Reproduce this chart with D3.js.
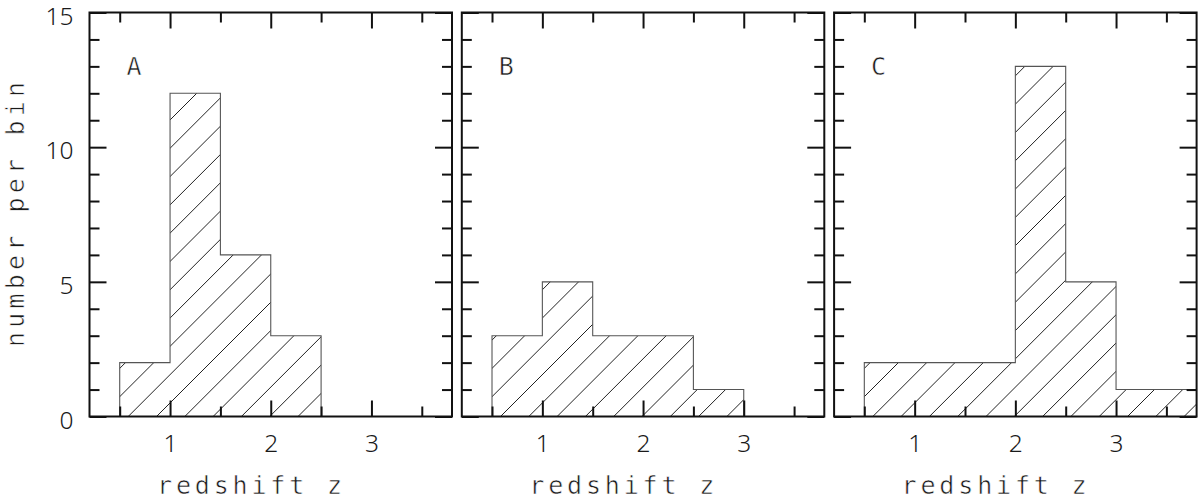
<!DOCTYPE html>
<html>
<head>
<meta charset="utf-8">
<script src="https://cdn.jsdelivr.net/npm/d3@7"></script>
<style>
  html, body { margin: 0; padding: 0; background: #fff; }
  svg { display: block; }
  text.lbl { font-family: "DejaVu Sans Mono", monospace; fill: #1a1a1a; stroke: #fff; stroke-width: 0.55px; }
</style>
</head>
<body>
<svg id="chart" width="1200" height="500"></svg>
<script>
// ---- data ----
const binStarts = [0.5, 1.0, 1.5, 2.0, 2.5, 3.0, 3.5];
const binWidth = 0.5;
const countsA = [2, 12, 6, 3, 0, 0, 0];
const countsB = [3, 5, 3, 3, 1, 0, 0];
const countsC = [2, 2, 2, 13, 5, 1, 1];
const panelNames = ["A", "B", "C"];
const xMajorTicks = [1, 2, 3];
const xMinorTicks = [0.5, 1.5, 2.5, 3.5];
const yMajorTicks = [0, 5, 10, 15];
const yMinorTicks = [1, 2, 3, 4, 6, 7, 8, 9, 11, 12, 13, 14];
const xLabel = "redshift z";
const yLabel = "number per bin";

// ---- layout ----
const svg = d3.select("#chart");
const panelW = 362.5, panelStep = 372.3, firstLeft = 89.5;
const plotTop = 12.5, plotBottom = 416.5;
const y = d3.scaleLinear().domain([0, 15]).range([plotBottom, plotTop]);
const series = [countsA, countsB, countsC];

const defs = svg.append("defs");

series.forEach((counts, i) => {
  const left = firstLeft + i * panelStep;
  const right = left + panelW;
  const x = d3.scaleLinear().domain([0.2, 3.8]).range([left, right]);
  const g = svg.append("g");

  // histogram points (trim trailing zeros)
  let last = counts.length - 1;
  while (last > 0 && counts[last] === 0) last--;
  let first = 0;
  while (first < last && counts[first] === 0) first++;
  const pts = [];
  for (let k = first; k <= last; k++) pts.push([binStarts[k], counts[k]]);
  pts.push([binStarts[last] + binWidth, counts[last]]);

  // clip paths
  defs.append("clipPath").attr("id", "panel" + i)
    .append("rect").attr("x", left).attr("y", plotTop)
    .attr("width", panelW).attr("height", plotBottom - plotTop);
  const area = d3.area().curve(d3.curveStepAfter)
    .x(d => x(d[0])).y0(y(0)).y1(d => y(d[1]));
  defs.append("clipPath").attr("id", "hist" + i)
    .append("path").attr("d", area(pts));

  const clipped = g.append("g").attr("clip-path", `url(#panel${i})`);
  const hatchG = clipped.append("g").attr("clip-path", `url(#hist${i})`);

  // hatching: 45 degree lines
  const H = plotBottom - plotTop;
  const s = 28.3, o = 10.4;
  const kMin = -Math.ceil(H / s) - 1, kMax = Math.ceil(panelW / s) + 1;
  const ks = d3.range(kMin, kMax + 1);
  hatchG.selectAll("line").data(ks).join("line")
    .attr("x1", k => left + o + k * s).attr("y1", plotBottom)
    .attr("x2", k => left + o + k * s + H).attr("y2", plotBottom - H)
    .attr("stroke", "#222").attr("stroke-width", 1);

  // outline
  const outline = [[binStarts[first], 0], ...pts, [binStarts[last] + binWidth, 0]];
  const line = d3.line().curve(d3.curveStepAfter).x(d => x(d[0])).y(d => y(d[1]));
  clipped.append("path").attr("d", line(outline))
    .attr("fill", "none").attr("stroke", "#555").attr("stroke-width", 1.1);

  // axes (inward ticks on all sides)
  const styleAxis = sel => {
    sel.select(".domain").remove();
    sel.selectAll(".tick line").attr("stroke", "#111").attr("stroke-width", 2);
    sel.selectAll(".tick text")
      .style("font-size", "24.5px")
      .style("font-family", "'Noto Sans', sans-serif")
      .style("font-weight", 300)
      .style("fill", "#1a1a1a");
  };
  const noLabel = () => "";

  g.append("g").attr("transform", `translate(0,${plotBottom})`)
    .call(d3.axisBottom(x).tickValues(xMajorTicks).tickSize(-16).tickPadding(18.5).tickFormat(d3.format("d")))
    .call(styleAxis);
  g.append("g").attr("transform", `translate(0,${plotBottom})`)
    .call(d3.axisBottom(x).tickValues(xMinorTicks).tickSize(-10).tickFormat(noLabel))
    .call(styleAxis);
  g.append("g").attr("transform", `translate(0,${plotTop})`)
    .call(d3.axisTop(x).tickValues(xMajorTicks).tickSize(-16).tickFormat(noLabel))
    .call(styleAxis);
  g.append("g").attr("transform", `translate(0,${plotTop})`)
    .call(d3.axisTop(x).tickValues(xMinorTicks).tickSize(-10).tickFormat(noLabel))
    .call(styleAxis);

  const yAxisG = g.append("g").attr("transform", `translate(${left},0)`)
    .call(d3.axisLeft(y).tickValues(yMajorTicks).tickSize(-17).tickPadding(16)
      .tickFormat(i === 0 ? d3.format("d") : noLabel))
    .call(styleAxis);
  yAxisG.selectAll(".tick text").attr("dy", "0.47em");
  g.append("g").attr("transform", `translate(${left},0)`)
    .call(d3.axisLeft(y).tickValues(yMinorTicks).tickSize(-10).tickFormat(noLabel))
    .call(styleAxis);
  g.append("g").attr("transform", `translate(${right},0)`)
    .call(d3.axisRight(y).tickValues(yMajorTicks).tickSize(-17).tickFormat(noLabel))
    .call(styleAxis);
  g.append("g").attr("transform", `translate(${right},0)`)
    .call(d3.axisRight(y).tickValues(yMinorTicks).tickSize(-10).tickFormat(noLabel))
    .call(styleAxis);

  // frame
  g.append("rect").attr("x", left).attr("y", plotTop)
    .attr("width", panelW).attr("height", plotBottom - plotTop)
    .attr("fill", "none").attr("stroke", "#111").attr("stroke-width", 2);

  // panel letter
  g.append("text").attr("class", "lbl").attr("x", left + 37).attr("y", 75)
    .attr("font-size", 25).text(panelNames[i]);

  // x label
  g.append("text").attr("class", "lbl").attr("x", left + 160).attr("y", 494)
    .attr("text-anchor", "middle").attr("font-size", 25)
    .attr("textLength", 185).attr("lengthAdjust", "spacing")
    .text(xLabel);
});

// y label
svg.append("text").attr("class", "lbl")
  .attr("transform", `translate(24,${(plotTop + plotBottom) / 2}) rotate(-90)`)
  .attr("text-anchor", "middle").attr("font-size", 25)
  .attr("textLength", 265).attr("lengthAdjust", "spacing")
  .text(yLabel);
</script>
</body>
</html>
